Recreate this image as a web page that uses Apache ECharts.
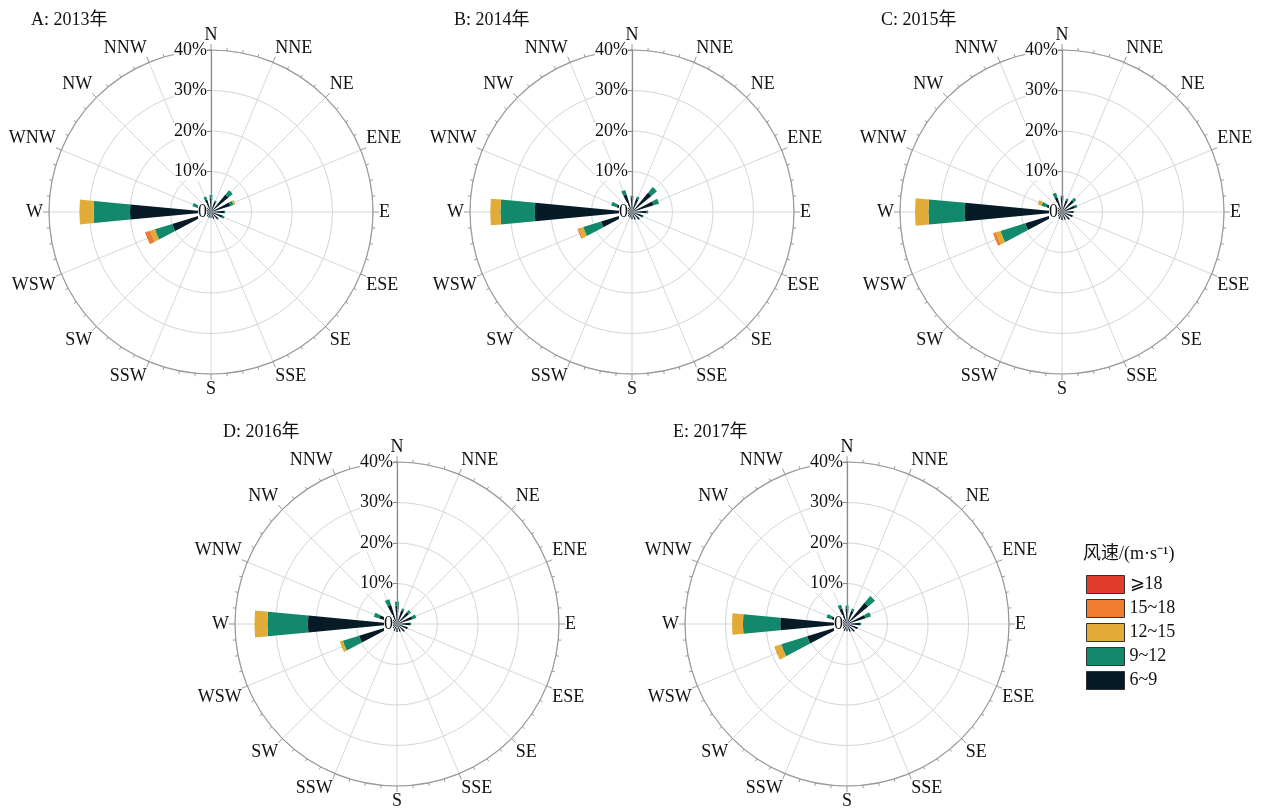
<!DOCTYPE html>
<html>
<head>
<meta charset="utf-8">
<script src="https://cdn.jsdelivr.net/npm/echarts@6/dist/echarts.min.js"></script>
<style>html,body{margin:0;padding:0;background:#fff}#c{width:1264px;height:810px}</style>
</head>
<body>
<div id="c"></div>
<script>
const dirs = ['N','NNE','NE','ENE','E','ESE','SE','SSE','S','SSW','SW','WSW','W','WNW','NW','NNW'];
const speedClasses = ['6~9','9~12','12~15','15~18','⩾18'];
const legendOrder = ['⩾18','15~18','12~15','9~12','6~9'];
const radiusTicks = [0,10,20,30,40];
const titles = ['A: 2013年','B: 2014年','C: 2015年','D: 2016年','E: 2017年'];

// values in % per direction (N, NNE, ... NNW)
const y2013_6to9   = [3.4,2.6,5.6,5.0,3.2,3.0,2.3,1.8,1.5,1.5,2.0,10.0,20.0,3.6,2.2,3.2];
const y2013_9to12  = [0.8,0.4,1.4,0.8,0.3,0.5,0.2,0,0,0,0,4.5,9.0,1.2,0.3,0.8];
const y2013_12to15 = [0,0,0,0.5,0,0,0,0,0,0,0,1.2,3.5,0,0,0];
const y2013_15to18 = [0,0,0,0,0,0,0,0,0,0,0,1.1,0,0,0,0];
const y2013_18up   = [0,0,0,0,0,0,0,0,0,0,0,0.2,0,0,0,0];

const y2014_6to9   = [3.5,3.4,6.2,5.6,3.6,2.8,2.5,2.0,1.8,1.5,2.0,8.0,24.0,4.0,2.6,4.5];
const y2014_9to12  = [0.5,0.6,1.8,1.4,0.4,0.2,0,0,0,0,0,4.6,8.5,1.4,0.4,1.2];
const y2014_12to15 = [0,0,0,0,0,0,0,0,0,0,0,1.2,2.5,0,0,0];
const y2014_15to18 = [0,0,0,0,0,0,0,0,0,0,0,0.3,0,0,0,0];
const y2014_18up   = [0,0,0,0,0,0,0,0,0,0,0,0,0,0,0,0];

const y2015_6to9   = [3.6,3.0,3.8,3.4,2.8,2.8,2.5,2.0,2.0,1.8,2.0,9.5,24.0,4.0,2.6,3.8];
const y2015_9to12  = [0.4,0.5,0.8,0.6,0.2,0,0,0,0,0,0,6.4,9.0,1.3,0.4,1.2];
const y2015_12to15 = [0,0,0,0,0,0,0,0,0,0,0,1.2,3.3,1.0,0,0];
const y2015_15to18 = [0,0,0,0,0,0,0,0,0,0,0,0.7,0,0,0,0];
const y2015_18up   = [0,0,0,0,0,0,0,0,0,0,0,0,0,0,0,0];

const y2016_6to9   = [4.5,3.5,3.8,4.0,3.2,2.8,2.5,2.0,2.0,1.8,2.2,9.8,22.0,4.6,2.6,5.0];
const y2016_9to12  = [1.0,0.5,0.7,1.0,0.3,0,0,0,0,0,0,4.2,10.0,1.4,0.4,1.4];
const y2016_12to15 = [0,0,0,0,0,0,0,0,0,0,0,0.8,3.2,0,0,0];
const y2016_15to18 = [0,0,0,0,0,0,0,0,0,0,0,0,0,0,0,0];
const y2016_18up   = [0,0,0,0,0,0,0,0,0,0,0,0,0,0,0,0];

const y2017_6to9   = [3.8,3.4,6.8,4.8,3.2,2.8,2.5,2.0,1.8,1.8,2.0,10.3,16.5,4.0,2.6,4.0];
const y2017_9to12  = [0.7,0.6,2.2,1.4,0.3,0,0,0,0,0,0,6.7,9.2,1.3,0.4,1.0];
const y2017_12to15 = [0,0,0,0,0,0,0,0,0,0,0,1.8,2.7,0,0,0];
const y2017_15to18 = [0,0,0,0,0,0,0,0,0,0,0,0,0,0,0,0];
const y2017_18up   = [0,0,0,0,0,0,0,0,0,0,0,0,0,0,0,0];

const years = [
  [y2013_6to9,y2013_9to12,y2013_12to15,y2013_15to18,y2013_18up],
  [y2014_6to9,y2014_9to12,y2014_12to15,y2014_15to18,y2014_18up],
  [y2015_6to9,y2015_9to12,y2015_12to15,y2015_15to18,y2015_18up],
  [y2016_6to9,y2016_9to12,y2016_12to15,y2016_15to18,y2016_18up],
  [y2017_6to9,y2017_9to12,y2017_12to15,y2017_15to18,y2017_18up]
];

const colors = {'6~9':'#071a28','9~12':'#11896a','12~15':'#e2aa36','15~18':'#ee7e2e','⩾18':'#e03b2d'};
const centers = [[211,212],[632,212],[1062,212],[397,624],[847,624]];
const titlePos = [[26,6],[449,6],[876,6],[218,418],[668,418]];
const R = 162;
const FONT = "'Liberation Serif','Noto Sans CJK SC',serif";

const polar = [], angleAxis = [], radiusAxis = [], series = [], title = [];
for (let i = 0; i < 5; i++) {
  polar.push({center: centers[i], radius: R});
}
for (let i = 0; i < 5; i++) {
  polar.push({center: centers[i], radius: R});
}
for (let i = 0; i < 5; i++) {
  // bar polar
  angleAxis.push({
    polarIndex: i, type: 'category', data: dirs, startAngle: 90 + 11.25, clockwise: true,
    boundaryGap: true,
    axisLine: {show: false}, axisTick: {show: false}, axisLabel: {show: false}, splitLine: {show: false}
  });
  radiusAxis.push({
    polarIndex: i, type: 'value', min: 0, max: 40, interval: 10,
    axisLine: {show: false}, axisTick: {show: false}, axisLabel: {show: false},
    splitLine: {show: true, lineStyle: {color: '#cfd6da', width: 1}}
  });
}
for (let i = 0; i < 5; i++) {
  // overlay polar with direction labels
  angleAxis.push({
    polarIndex: 5 + i, type: 'value', min: 0, max: 360, interval: 22.5, startAngle: 90, clockwise: true,
    axisLine: {show: true, lineStyle: {color: '#9a9a9a', width: 1.2}},
    axisTick: {show: true, length: 6, lineStyle: {color: '#9a9a9a'}},
    minorTick: {show: true, splitNumber: 4, length: 3, lineStyle: {color: '#9a9a9a'}},
    splitLine: {show: true, lineStyle: {color: '#d3d9dc', width: 1}},
    axisLabel: {
      show: true, margin: 6, color: '#111', fontSize: 18, fontFamily: FONT,
      formatter: function (v) { const k = Math.round(v / 22.5); return k >= 16 ? '' : dirs[k]; }
    }
  });
  radiusAxis.push({
    polarIndex: 5 + i, type: 'value', min: 0, max: 40, interval: 10, z: 5,
    axisLine: {show: true, lineStyle: {color: '#8a8a8a', width: 1.2}},
    axisTick: {show: true, length: 4, lineStyle: {color: '#8a8a8a'}},
    splitLine: {show: false},
    axisLabel: {
      show: true, color: '#111', fontSize: 18, fontFamily: FONT, margin: 4,
      backgroundColor: '#fff',
      formatter: function (v) { return v === 0 ? '0' : v + '%'; }
    }
  });
  title.push({
    text: titles[i], left: titlePos[i][0], top: titlePos[i][1],
    textStyle: {fontSize: 18, fontWeight: 'normal', color: '#111', fontFamily: FONT}
  });
  speedClasses.forEach(function (sc, j) {
    series.push({
      type: 'bar', coordinateSystem: 'polar', polarIndex: i, name: sc, stack: 'y' + i,
      data: years[i][j], barCategoryGap: '52%', itemStyle: {color: colors[sc]}, z: 2
    });
  });
}
title.push({
  text: '风速/(m·s⁻¹)', left: 1078, top: 540,
  textStyle: {fontSize: 18, fontWeight: 'normal', color: '#111', fontFamily: FONT}
});

const chart = echarts.init(document.getElementById('c'));
chart.setOption({
  animation: false,
  backgroundColor: '#fff',
  title: title,
  polar: polar,
  angleAxis: angleAxis,
  radiusAxis: radiusAxis,
  legend: {
    data: legendOrder, orient: 'vertical', left: 1081, top: 570,
    itemWidth: 38, itemHeight: 18, itemGap: 5, icon: 'rect',
    itemStyle: {borderColor: '#333', borderWidth: 1},
    textStyle: {fontSize: 18, color: '#111', fontFamily: FONT}
  },
  series: series
});
</script>
</body>
</html>
